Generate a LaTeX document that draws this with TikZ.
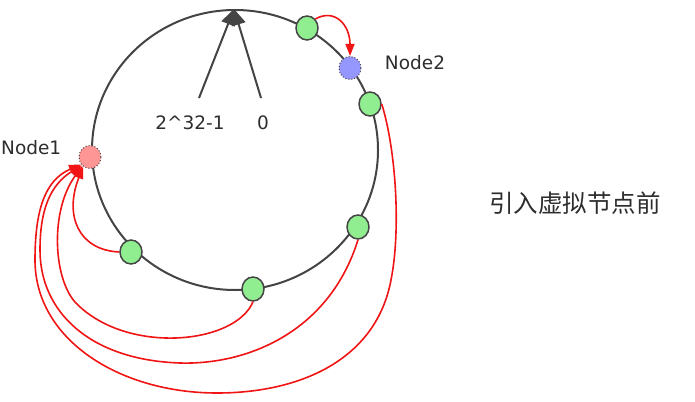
\documentclass[tikz,border=0pt]{standalone}
\usepackage{fontspec}
\setmainfont{DejaVu Sans}
\newfontfamily\cjk{Noto Sans CJK SC}
\usetikzlibrary{arrows.meta,shapes.geometric}

\definecolor{ringgray}{RGB}{68,68,68}
\definecolor{textgray}{RGB}{45,45,45}
\definecolor{vgreen}{RGB}{144,238,144}
\definecolor{pinknode}{RGB}{255,150,150}
\definecolor{bluenode}{RGB}{150,150,255}
\definecolor{linkred}{RGB}{240,20,20}

\begin{document}
\begin{tikzpicture}[x=1pt,y=1pt,yscale=-1,
    ring/.style={draw=ringgray,line width=2pt},
    vnode/.style={ellipse,draw=ringgray,line width=1.5pt,fill=vgreen,
        minimum width=22pt,minimum height=24pt,inner sep=0pt},
    realnode/.style={ellipse,draw=ringgray,line width=1pt,dotted,
        minimum width=22pt,minimum height=23pt,inner sep=0pt},
    label/.style={text=textgray,font=\fontsize{18.5}{20}\selectfont},
    link/.style={draw=linkred,line width=1.6pt,-{Triangle[length=12pt,width=9pt]}}]
    \useasboundingbox (0,0) rectangle (695,401);

    % the hash ring
    \draw[ring] (235,150) ellipse [x radius=143, y radius=140];

    % pointer to 0 / 2^32-1
    \coordinate (top) at (234,9);
    \coordinate (lo) at (199,98);
    \coordinate (hi) at (261,98);
    \draw[ring,-{Triangle[length=16pt,width=14pt]}] (lo) -- (top);
    \draw[ring,-{Triangle[length=16pt,width=14pt]}] (hi) -- (top);
    \node[label] (max) at (190,123) {2\string^32-1};
    \node[label] (zero) at (263,123) {0};

    % real nodes
    \node[realnode,fill=pinknode] (n1) at (90,157) {};
    \node[realnode,fill=bluenode] (n2) at (350,68) {};
    \node[label,anchor=west,inner xsep=0pt] at (1,148) {Node1};
    \node[label] at (415,63) {Node2};

    % keys on the ring
    \node[vnode] (k1) at (307,28) {};
    \node[vnode] (k2) at (370,104) {};
    \node[vnode] (k3) at (131,252) {};
    \node[vnode] (k4) at (253,289) {};
    \node[vnode] (k5) at (358,227) {};

    % key -> node
    \draw[link] (k1.north east) .. controls (335,8) and (350,25) .. (n2.north);
    \draw[link] (k3.west) .. controls (78,250) and (64,215) .. (n1.235);
    \draw[link] (k4.south) .. controls (235,345) and (125,355) .. (75,302)
        .. controls (53,277) and (50,210) .. (n1.230);
    \draw[link] (k5.south) .. controls (330,330) and (250,365) .. (180,363)
        .. controls (90,360) and (40,312) .. (40,250)
        .. controls (40,210) and (50,185) .. (n1.225);
    \draw[link] (k2.east) .. controls (396,150) and (401,230) .. (391,280)
        .. controls (376,360) and (300,393) .. (217,393)
        .. controls (120,393) and (35,340) .. (35,260)
        .. controls (35,210) and (45,180) .. (n1.220);

    \node[text=textgray,font=\cjk\fontsize{24.5}{27}\selectfont] (title) at (575,203) {引入虚拟节点前};
\end{tikzpicture}
\end{document}
